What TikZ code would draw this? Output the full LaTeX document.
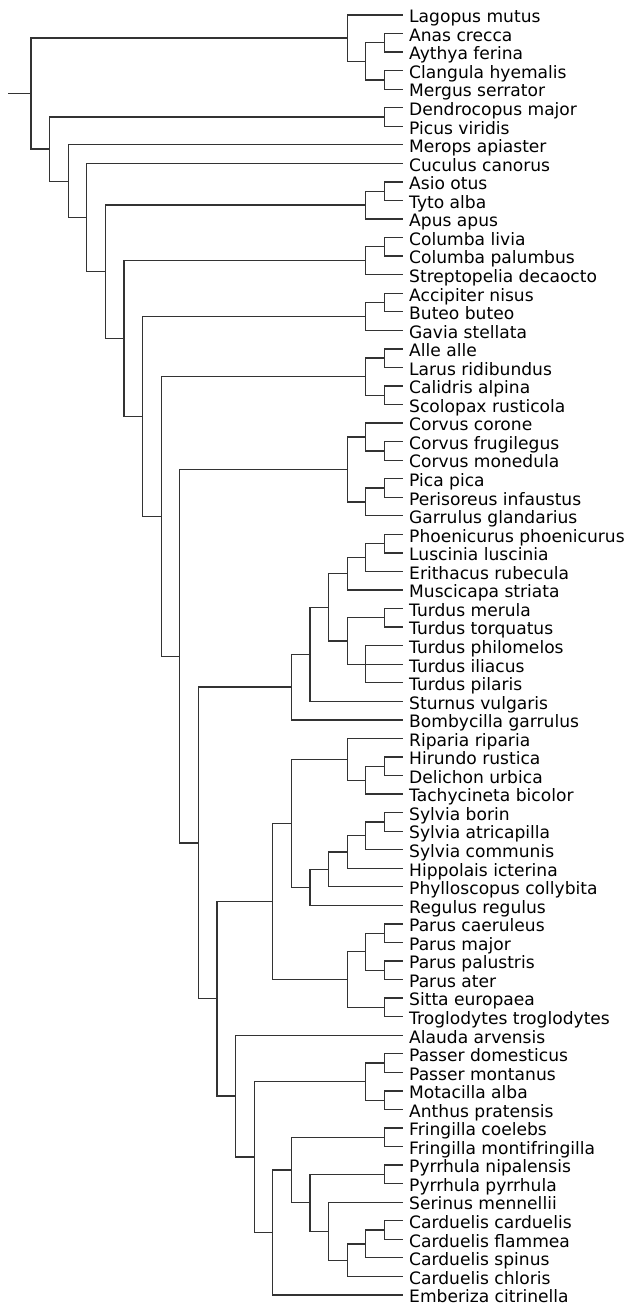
\documentclass[tikz,border=0pt]{standalone}
\usepackage{fontspec}
\setmainfont{DejaVu Sans}
\newcommand{\lblfont}{\fontsize{17.1}{20}\selectfont}
\begin{document}
\begin{tikzpicture}[x=1pt,y=-0.99731pt,
  leaf/.style={anchor=west, inner xsep=6pt, inner ysep=0pt, text height=17pt, text depth=1.4pt, font=\lblfont},
  br/.style={line width=1.3pt, draw=black!80}]
\useasboundingbox (0pt,0pt) rectangle (627pt,-1305pt);
% leaves
\node[leaf] (lagopus) at (403,15.0) {Lagopus mutus};
\node[leaf] (anas) at (403,33.6) {Anas crecca};
\node[leaf] (aythya) at (403,52.2) {Aythya ferina};
\node[leaf] (clangula) at (403,70.8) {Clangula hyemalis};
\node[leaf] (mergus) at (403,89.4) {Mergus serrator};
\node[leaf] (dendro) at (403,108.0) {Dendrocopus major};
\node[leaf] (picus) at (403,126.6) {Picus viridis};
\node[leaf] (merops) at (403,145.2) {Merops apiaster};
\node[leaf] (cuculus) at (403,163.8) {Cuculus canorus};
\node[leaf] (asio) at (403,182.4) {Asio otus};
\node[leaf] (tyto) at (403,201.0) {Tyto alba};
\node[leaf] (apus) at (403,219.6) {Apus apus};
\node[leaf] (colliv) at (403,238.2) {Columba livia};
\node[leaf] (colpal) at (403,256.8) {Columba palumbus};
\node[leaf] (strept) at (403,275.4) {Streptopelia decaocto};
\node[leaf] (accip) at (403,294.0) {Accipiter nisus};
\node[leaf] (buteo) at (403,312.6) {Buteo buteo};
\node[leaf] (gavia) at (403,331.2) {Gavia stellata};
\node[leaf] (alle) at (403,349.8) {Alle alle};
\node[leaf] (larus) at (403,368.4) {Larus ridibundus};
\node[leaf] (calid) at (403,387.0) {Calidris alpina};
\node[leaf] (scolo) at (403,405.6) {Scolopax rusticola};
\node[leaf] (corcor) at (403,424.2) {Corvus corone};
\node[leaf] (corfru) at (403,442.8) {Corvus frugilegus};
\node[leaf] (cormon) at (403,461.4) {Corvus monedula};
\node[leaf] (pica) at (403,480.0) {Pica pica};
\node[leaf] (periso) at (403,498.6) {Perisoreus infaustus};
\node[leaf] (garrul) at (403,517.2) {Garrulus glandarius};
\node[leaf] (phoen) at (403,535.8) {Phoenicurus phoenicurus};
\node[leaf] (luscin) at (403,554.4) {Luscinia luscinia};
\node[leaf] (erith) at (403,573.0) {Erithacus rubecula};
\node[leaf] (musci) at (403,591.6) {Muscicapa striata};
\node[leaf] (tmer) at (403,610.2) {Turdus merula};
\node[leaf] (ttor) at (403,628.8) {Turdus torquatus};
\node[leaf] (tphi) at (403,647.4) {Turdus philomelos};
\node[leaf] (tili) at (403,666.0) {Turdus iliacus};
\node[leaf] (tpil) at (403,684.6) {Turdus pilaris};
\node[leaf] (sturn) at (403,703.2) {Sturnus vulgaris};
\node[leaf] (bomby) at (403,721.8) {Bombycilla garrulus};
\node[leaf] (ripar) at (403,740.4) {Riparia riparia};
\node[leaf] (hirund) at (403,759.0) {Hirundo rustica};
\node[leaf] (delich) at (403,777.6) {Delichon urbica};
\node[leaf] (tachy) at (403,796.2) {Tachycineta bicolor};
\node[leaf] (sbor) at (403,814.8) {Sylvia borin};
\node[leaf] (satr) at (403,833.4) {Sylvia atricapilla};
\node[leaf] (scom) at (403,852.0) {Sylvia communis};
\node[leaf] (hippo) at (403,870.6) {Hippolais icterina};
\node[leaf] (phyllo) at (403,889.2) {Phylloscopus collybita};
\node[leaf] (regul) at (403,907.8) {Regulus regulus};
\node[leaf] (pcae) at (403,926.4) {Parus caeruleus};
\node[leaf] (pmaj) at (403,945.0) {Parus major};
\node[leaf] (ppal) at (403,963.6) {Parus palustris};
\node[leaf] (pate) at (403,982.2) {Parus ater};
\node[leaf] (sitta) at (403,1000.8) {Sitta europaea};
\node[leaf] (troglo) at (403,1019.4) {Troglodytes troglodytes};
\node[leaf] (alauda) at (403,1038.0) {Alauda arvensis};
\node[leaf] (pasdom) at (403,1056.6) {Passer domesticus};
\node[leaf] (pasmon) at (403,1075.2) {Passer montanus};
\node[leaf] (motac) at (403,1093.8) {Motacilla alba};
\node[leaf] (anthus) at (403,1112.4) {Anthus pratensis};
\node[leaf] (frcoe) at (403,1131.0) {Fringilla coelebs};
\node[leaf] (frmon) at (403,1149.6) {Fringilla montifringilla};
\node[leaf] (pynip) at (403,1168.2) {Pyrrhula nipalensis};
\node[leaf] (pypyr) at (403,1186.8) {Pyrrhula pyrrhula};
\node[leaf] (serin) at (403,1205.4) {Serinus mennellii};
\node[leaf] (cacar) at (403,1224.0) {Carduelis carduelis};
\node[leaf] (cafla) at (403,1242.6) {Carduelis flammea};
\node[leaf] (caspi) at (403,1261.2) {Carduelis spinus};
\node[leaf] (cachl) at (403,1279.8) {Carduelis chloris};
\node[leaf] (ember) at (403,1298.4) {Emberiza citrinella};
% internal nodes
\coordinate (nac) at (384.4,42.9);
\coordinate (ncm) at (384.4,80.1);
\coordinate (nduck) at (365.8,61.5);
\coordinate (nA) at (347.2,38.25);
\coordinate (npic) at (384.4,117.3);
\coordinate (nat) at (384.4,191.7);
\coordinate (nG) at (365.8,205.65);
\coordinate (ncol) at (384.4,247.5);
\coordinate (nI) at (365.8,261.45);
\coordinate (nab) at (384.4,303.3);
\coordinate (nK) at (365.8,317.25);
\coordinate (nal) at (384.4,359.1);
\coordinate (ncs) at (384.4,396.3);
\coordinate (nM) at (365.8,377.7);
\coordinate (nfm) at (384.4,452.1);
\coordinate (ncor) at (365.8,438.15);
\coordinate (npp) at (384.4,489.3);
\coordinate (ngar) at (365.8,503.25);
\coordinate (nO) at (347.2,470.7);
\coordinate (npl) at (384.4,545.1);
\coordinate (nQ3a) at (365.8,559.05);
\coordinate (nQ3) at (347.2,575.33);
\coordinate (nmt) at (384.4,619.5);
\coordinate (ntri) at (365.8,666.0);
\coordinate (nQ4) at (347.2,642.75);
\coordinate (nQ2) at (328.6,609.04);
\coordinate (nQ1) at (310.0,656.12);
\coordinate (nQ) at (291.4,688.96);
\coordinate (nhd) at (384.4,768.3);
\coordinate (nhdt) at (365.8,782.25);
\coordinate (nsw) at (347.2,761.33);
\coordinate (nsba) at (384.4,824.1);
\coordinate (nW3) at (365.8,838.05);
\coordinate (nW2) at (347.2,854.33);
\coordinate (nW1) at (328.6,871.76);
\coordinate (nwar) at (310.0,889.78);
\coordinate (nS1) at (291.4,825.55);
\coordinate (npcm) at (384.4,935.7);
\coordinate (nppa) at (384.4,972.9);
\coordinate (npar) at (365.8,954.3);
\coordinate (nst) at (384.4,1010.1);
\coordinate (nS2) at (347.2,982.2);
\coordinate (nS) at (272.8,903.88);
\coordinate (npas) at (384.4,1065.9);
\coordinate (nma) at (384.4,1103.1);
\coordinate (nU1) at (365.8,1084.5);
\coordinate (nfr) at (384.4,1140.3);
\coordinate (npy) at (384.4,1177.5);
\coordinate (ncf) at (384.4,1233.3);
\coordinate (nV5) at (365.8,1247.25);
\coordinate (nV4) at (347.2,1263.53);
\coordinate (nV3) at (328.6,1234.46);
\coordinate (nV2) at (310.0,1205.98);
\coordinate (nV) at (291.4,1173.14);
\coordinate (nU2) at (272.8,1235.77);
\coordinate (nU) at (254.2,1160.14);
\coordinate (nT) at (235.6,1099.07);
\coordinate (nR) at (217.0,1001.48);
\coordinate (nP) at (198.4,845.22);
\coordinate (nN) at (179.8,657.96);
\coordinate (nL) at (161.2,517.83);
\coordinate (nJ) at (142.6,417.54);
\coordinate (nH) at (124.0,339.5);
\coordinate (nF) at (105.4,272.57);
\coordinate (nE) at (86.8,218.19);
\coordinate (nD) at (68.2,181.7);
\coordinate (nB) at (49.6,149.5);
\coordinate (nroot) at (31.0,93.9);
\coordinate (stub) at (8.0,93.9);
% branches
\draw[br] (stub) -- (nroot);
\draw[br] (nroot) |- (nA) (nroot) |- (nB);
\draw[br] (nA) |- (lagopus.west) (nA) |- (nduck);
\draw[br] (nduck) |- (nac) (nduck) |- (ncm);
\draw[br] (nac) |- (anas.west) (nac) |- (aythya.west);
\draw[br] (ncm) |- (clangula.west) (ncm) |- (mergus.west);
\draw[br] (nB) |- (npic) (nB) |- (nD);
\draw[br] (npic) |- (dendro.west) (npic) |- (picus.west);
\draw[br] (nD) |- (merops.west) (nD) |- (nE);
\draw[br] (nE) |- (cuculus.west) (nE) |- (nF);
\draw[br] (nF) |- (nG) (nF) |- (nH);
\draw[br] (nG) |- (nat) (nG) |- (apus.west);
\draw[br] (nat) |- (asio.west) (nat) |- (tyto.west);
\draw[br] (nH) |- (nI) (nH) |- (nJ);
\draw[br] (nI) |- (ncol) (nI) |- (strept.west);
\draw[br] (ncol) |- (colliv.west) (ncol) |- (colpal.west);
\draw[br] (nJ) |- (nK) (nJ) |- (nL);
\draw[br] (nK) |- (nab) (nK) |- (gavia.west);
\draw[br] (nab) |- (accip.west) (nab) |- (buteo.west);
\draw[br] (nL) |- (nM) (nL) |- (nN);
\draw[br] (nM) |- (nal) (nM) |- (ncs);
\draw[br] (nal) |- (alle.west) (nal) |- (larus.west);
\draw[br] (ncs) |- (calid.west) (ncs) |- (scolo.west);
\draw[br] (nN) |- (nO) (nN) |- (nP);
\draw[br] (nO) |- (ncor) (nO) |- (ngar);
\draw[br] (ncor) |- (corcor.west) (ncor) |- (nfm);
\draw[br] (nfm) |- (corfru.west) (nfm) |- (cormon.west);
\draw[br] (ngar) |- (npp) (ngar) |- (garrul.west);
\draw[br] (npp) |- (pica.west) (npp) |- (periso.west);
\draw[br] (nP) |- (nQ) (nP) |- (nR);
\draw[br] (nQ) |- (nQ1) (nQ) |- (bomby.west);
\draw[br] (nQ1) |- (nQ2) (nQ1) |- (sturn.west);
\draw[br] (nQ2) |- (nQ3) (nQ2) |- (nQ4);
\draw[br] (nQ3) |- (nQ3a) (nQ3) |- (musci.west);
\draw[br] (nQ3a) |- (npl) (nQ3a) |- (erith.west);
\draw[br] (npl) |- (phoen.west) (npl) |- (luscin.west);
\draw[br] (nQ4) |- (nmt) (nQ4) |- (ntri);
\draw[br] (nmt) |- (tmer.west) (nmt) |- (ttor.west);
\draw[br] (ntri) |- (tphi.west) (ntri) |- (tili.west) (ntri) |- (tpil.west);
\draw[br] (nR) |- (nS) (nR) |- (nT);
\draw[br] (nS) |- (nS1) (nS) |- (nS2);
\draw[br] (nS1) |- (nsw) (nS1) |- (nwar);
\draw[br] (nsw) |- (ripar.west) (nsw) |- (nhdt);
\draw[br] (nhdt) |- (nhd) (nhdt) |- (tachy.west);
\draw[br] (nhd) |- (hirund.west) (nhd) |- (delich.west);
\draw[br] (nwar) |- (nW1) (nwar) |- (regul.west);
\draw[br] (nW1) |- (nW2) (nW1) |- (phyllo.west);
\draw[br] (nW2) |- (nW3) (nW2) |- (hippo.west);
\draw[br] (nW3) |- (nsba) (nW3) |- (scom.west);
\draw[br] (nsba) |- (sbor.west) (nsba) |- (satr.west);
\draw[br] (nS2) |- (npar) (nS2) |- (nst);
\draw[br] (npar) |- (npcm) (npar) |- (nppa);
\draw[br] (npcm) |- (pcae.west) (npcm) |- (pmaj.west);
\draw[br] (nppa) |- (ppal.west) (nppa) |- (pate.west);
\draw[br] (nst) |- (sitta.west) (nst) |- (troglo.west);
\draw[br] (nT) |- (alauda.west) (nT) |- (nU);
\draw[br] (nU) |- (nU1) (nU) |- (nU2);
\draw[br] (nU1) |- (npas) (nU1) |- (nma);
\draw[br] (npas) |- (pasdom.west) (npas) |- (pasmon.west);
\draw[br] (nma) |- (motac.west) (nma) |- (anthus.west);
\draw[br] (nU2) |- (nV) (nU2) |- (ember.west);
\draw[br] (nV) |- (nfr) (nV) |- (nV2);
\draw[br] (nfr) |- (frcoe.west) (nfr) |- (frmon.west);
\draw[br] (nV2) |- (npy) (nV2) |- (nV3);
\draw[br] (npy) |- (pynip.west) (npy) |- (pypyr.west);
\draw[br] (nV3) |- (serin.west) (nV3) |- (nV4);
\draw[br] (nV4) |- (nV5) (nV4) |- (cachl.west);
\draw[br] (nV5) |- (ncf) (nV5) |- (caspi.west);
\draw[br] (ncf) |- (cacar.west) (ncf) |- (cafla.west);
\end{tikzpicture}
\end{document}
